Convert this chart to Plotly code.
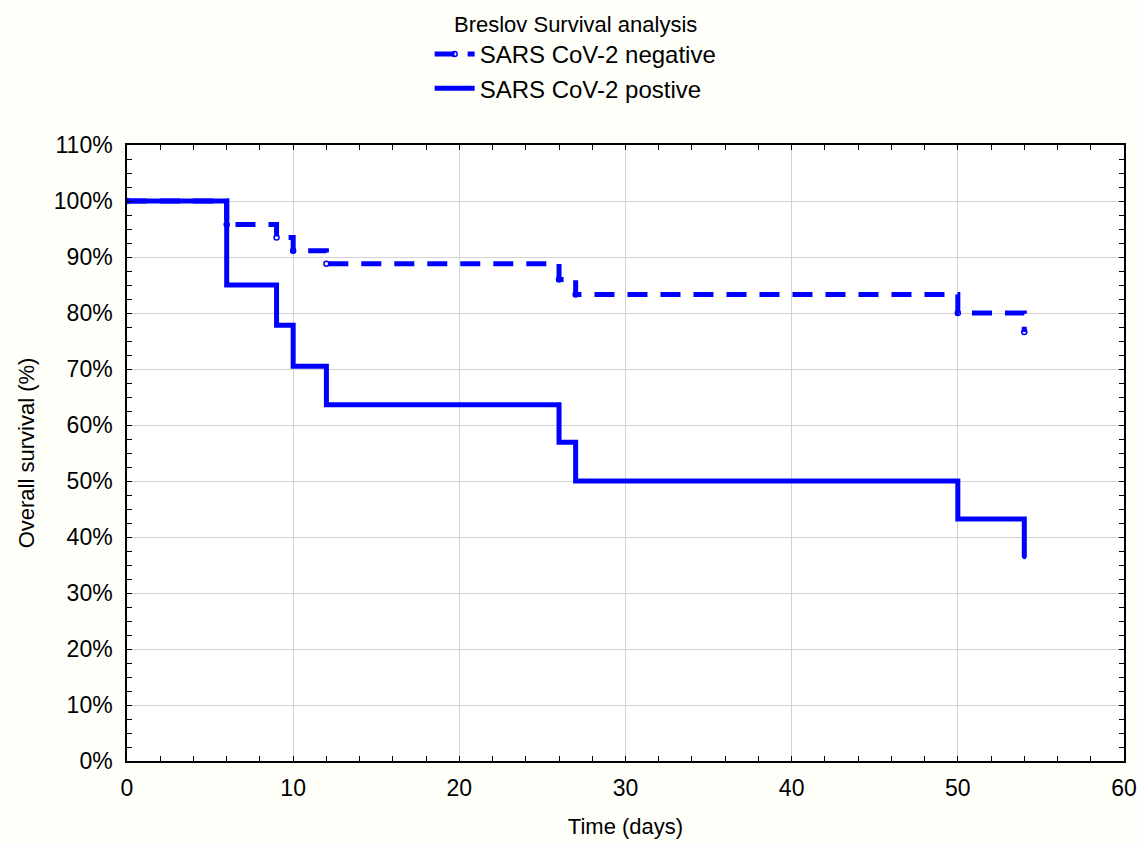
import plotly.graph_objects as go

# Data
times = [0, 6, 9, 10, 12, 26, 27, 50, 54]
neg_survival = [100, 95.8, 93.5, 91.1, 88.8, 86.0, 83.3, 80.0, 76.6]
pos_survival = [100, 85.0, 77.8, 70.5, 63.6, 56.9, 50.0, 43.2, 36.4]
series_names = ["SARS CoV-2 negative", "SARS CoV-2 postive"]
y_ticks = list(range(0, 111, 10))
y_tick_labels = [f"{v}%" for v in y_ticks]
x_ticks = list(range(0, 61, 10))

BLUE = "#0000ff"
FONT = "Liberation Sans, Arial, Helvetica, sans-serif"

fig = go.Figure()
fig.add_trace(go.Scatter(
    x=times, y=neg_survival, name=series_names[0],
    mode="lines+markers", line=dict(color=BLUE, width=5, dash="20px,13px", shape="hv"),
    marker=dict(symbol="circle-open", size=5, color=BLUE, line=dict(width=1.5)),
))
fig.add_trace(go.Scatter(
    x=times, y=pos_survival, name=series_names[1],
    mode="lines+markers", line=dict(color=BLUE, width=5, shape="hv"),
    marker=dict(symbol="circle", size=4, color=BLUE),
))

axis_common = dict(
    showline=True, linecolor="black", linewidth=1.5, mirror="allticks",
    ticks="inside", ticklen=5, tickcolor="black", tickwidth=1.2,
    showgrid=True, gridcolor="#d2d2d2", gridwidth=1.2, zeroline=False,
    tickfont=dict(family=FONT, size=23, color="black"),
)

fig.update_xaxes(
    range=[0, 60], tickvals=x_ticks, ticklabelstandoff=6,
    minor=dict(dtick=2, ticks="inside", ticklen=5, tickcolor="black", showgrid=False),
    title=dict(text="Time (days)", font=dict(family=FONT, size=22, color="black"), standoff=18),
    **axis_common,
)
fig.update_yaxes(
    range=[0, 110], tickvals=y_ticks, ticktext=y_tick_labels, ticklabelstandoff=8,
    minor=dict(dtick=2.5, ticks="inside", ticklen=5, tickcolor="black", showgrid=False),
    title=dict(text="Overall survival (%)", font=dict(family=FONT, size=22, color="black"), standoff=13),
    **axis_common,
)

fig.update_layout(
    width=1141, height=843,
    margin=dict(l=127, r=17, t=145, b=82, autoexpand=False),
    paper_bgcolor="#fffffa", plot_bgcolor="white",
    font=dict(family=FONT, color="black"),
    showlegend=True,
    legend=dict(
        title=dict(text="Breslov Survival analysis", side="top center",
                   font=dict(family=FONT, size=22, color="black")),
        x=0.45, xanchor="center",
        y=0.996, yanchor="top", yref="container",
        bgcolor="rgba(0,0,0,0)", font=dict(family=FONT, size=24, color="black"),
        itemwidth=40, tracegroupgap=0,
    ),
)

fig.write_html("out.html")
